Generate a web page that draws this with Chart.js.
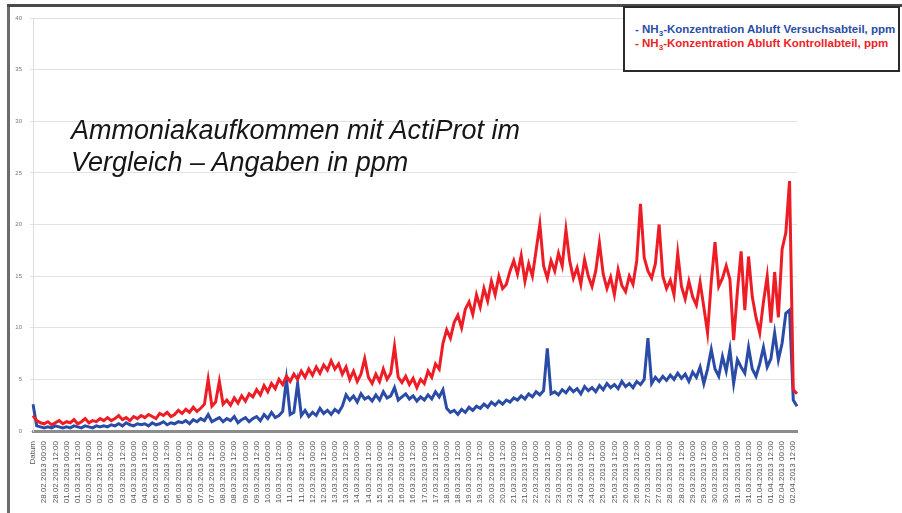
<!DOCTYPE html>
<html><head><meta charset="utf-8">
<script src="https://cdn.jsdelivr.net/npm/chart.js@4"></script>
<style>
html,body{margin:0;padding:0;background:#fff;}
#wrap{position:relative;width:902px;height:513px;overflow:hidden;background:#fff;}
#c{position:absolute;left:0;top:0;}
.frameL{position:absolute;left:7px;top:4px;width:3px;height:509px;background:#6b6b6b;}
.frameT{position:absolute;left:7px;top:4px;width:895px;height:3px;background:#4a4a4a;}
#title{position:absolute;left:71px;top:114px;font:italic 27px/32px "Liberation Sans",Arial,sans-serif;color:#161616;white-space:nowrap;}
#legend{position:absolute;left:623px;top:6px;width:273px;height:62px;border:2px solid #2a2a2a;background:#fff;}
.li{position:absolute;left:10px;font:bold 10px/12px "Liberation Sans",Arial,sans-serif;white-space:nowrap;transform-origin:left center;transform:scaleX(1.15);}
.li sub{font-size:7px;line-height:0;}
</style>
</head><body>
<div id="wrap">
<canvas id="c" width="902" height="513"></canvas>
<div class="frameL"></div><div class="frameT"></div>
<div id="title">Ammoniakaufkommen mit ActiProt im<br>Vergleich – Angaben in ppm</div>
<div id="legend">
<div class="li" style="top:16px;color:#2a4ca6">- NH<sub>3</sub>-Konzentration Abluft Versuchsabteil, ppm</div>
<div class="li" style="top:30px;color:#ee1c25">- NH<sub>3</sub>-Konzentration Abluft Kontrollabteil, ppm</div>
</div>
</div>
<script>
const tickLabels = ["Datum",
"28.02.2013 00:00","28.02.2013 12:00","01.03.2013 00:00","01.03.2013 12:00","02.03.2013 00:00","02.03.2013 12:00",
"03.03.2013 00:00","03.03.2013 12:00","04.03.2013 00:00","04.03.2013 12:00","05.03.2013 00:00","05.03.2013 12:00",
"06.03.2013 00:00","06.03.2013 12:00","07.03.2013 00:00","07.03.2013 12:00","08.03.2013 00:00","08.03.2013 12:00",
"09.03.2013 00:00","09.03.2013 12:00","10.03.2013 00:00","10.03.2013 12:00","11.03.2013 00:00","11.03.2013 12:00",
"12.03.2013 00:00","12.03.2013 12:00","13.03.2013 00:00","13.03.2013 12:00","14.03.2013 00:00","14.03.2013 12:00",
"15.03.2013 00:00","15.03.2013 12:00","16.03.2013 00:00","16.03.2013 12:00","17.03.2013 00:00","17.03.2013 12:00",
"18.03.2013 00:00","18.03.2013 12:00","19.03.2013 00:00","19.03.2013 12:00","20.03.2013 00:00","20.03.2013 12:00",
"21.03.2013 00:00","21.03.2013 12:00","22.03.2013 00:00","22.03.2013 12:00","23.03.2013 00:00","23.03.2013 12:00",
"24.03.2013 00:00","24.03.2013 12:00","25.03.2013 00:00","25.03.2013 12:00","26.03.2013 00:00","26.03.2013 12:00",
"27.03.2013 00:00","27.03.2013 12:00","28.03.2013 00:00","28.03.2013 12:00","29.03.2013 00:00","29.03.2013 12:00",
"30.03.2013 00:00","30.03.2013 12:00","31.03.2013 00:00","31.03.2013 12:00","01.04.2013 00:00","01.04.2013 12:00",
"02.04.2013 00:00","02.04.2013 12:00"];

// NH3 Kontrollabteil (red), ppm
const kontroll = [
1.5,1.0,0.8,0.7,0.9,0.6,0.8,1.0,0.7,0.9,
0.8,1.1,0.7,0.9,1.2,0.8,1.0,0.9,1.2,1.0,
1.3,1.0,1.2,1.5,1.1,1.3,1.0,1.4,1.2,1.5,
1.3,1.6,1.4,1.2,1.7,1.5,1.8,1.4,1.6,2.0,
1.7,2.1,1.8,2.3,1.9,2.2,2.6,5.0,2.4,2.8,
4.8,2.6,3.0,2.5,3.2,2.7,3.4,2.9,3.6,3.3,
4.0,3.5,4.4,3.8,4.6,4.1,5.0,4.5,5.3,4.8,
5.5,5.0,5.8,5.2,6.0,5.4,6.2,5.6,6.4,5.9,
6.8,6.0,6.5,5.5,6.2,5.0,5.8,4.8,5.5,7.0,
5.2,4.6,5.5,4.8,6.0,5.0,5.6,8.2,5.2,4.7,
5.3,4.5,5.1,4.2,5.0,4.6,5.8,5.2,6.5,6.0,
8.5,9.8,9.0,10.5,11.2,10.0,11.8,12.5,11.3,13.2,
12.0,13.8,12.6,14.5,13.2,15.0,13.8,14.2,15.5,16.5,
15.2,17.0,14.5,16.2,15.0,17.5,20.0,16.0,14.8,16.5,
15.5,17.2,16.0,19.5,16.5,14.8,15.8,14.2,16.6,15.0,
14.0,15.5,18.2,15.2,13.8,14.9,13.2,15.6,14.1,13.5,
15.0,14.2,16.5,22.0,16.8,15.5,14.8,16.2,20.0,15.0,
13.8,14.6,13.2,17.2,14.0,12.8,14.5,13.0,12.2,14.4,
12.0,9.5,14.5,18.3,14.0,14.8,16.0,14.7,8.8,13.5,
17.4,11.7,16.9,13.0,11.0,9.5,12.5,15.0,10.5,15.4,
11.0,17.6,19.2,24.2,4.0,3.6];

// NH3 Versuchsabteil (blue), ppm
const versuch = [
2.6,0.5,0.4,0.3,0.4,0.3,0.5,0.4,0.3,0.4,
0.3,0.5,0.4,0.3,0.5,0.4,0.3,0.5,0.4,0.5,
0.4,0.6,0.5,0.7,0.5,0.8,0.6,0.5,0.7,0.6,
0.7,0.5,0.8,0.6,0.7,0.9,0.6,0.8,0.7,0.9,
0.8,1.0,0.7,1.1,0.9,1.2,1.0,1.6,0.9,1.1,
1.3,0.9,1.2,1.0,1.4,0.8,1.1,1.3,0.9,1.2,
1.4,1.0,1.6,1.2,1.8,1.3,1.5,1.9,5.0,1.6,
1.8,4.6,1.5,2.0,1.4,1.8,1.5,2.2,1.7,2.0,
1.6,2.1,1.8,2.4,3.5,3.0,3.4,2.8,3.6,3.1,
3.3,2.9,3.5,3.0,3.8,3.2,3.4,4.2,3.0,3.3,
3.6,3.1,3.4,2.9,3.3,3.0,3.5,3.1,3.8,3.3,
4.0,2.2,1.8,2.0,1.6,2.1,1.8,2.3,2.0,2.4,
2.2,2.6,2.3,2.8,2.5,2.9,2.6,3.0,2.8,3.2,
3.0,3.4,3.1,3.6,3.3,3.8,3.5,3.9,8.0,3.6,
3.8,3.5,4.0,3.7,4.2,3.8,4.1,3.6,4.3,3.9,
4.2,3.8,4.4,4.0,4.6,4.2,4.5,4.1,4.8,4.3,
4.6,4.2,4.8,4.5,5.0,9.0,4.6,5.2,4.8,5.3,
4.9,5.4,5.0,5.6,5.1,5.5,4.8,5.7,5.2,6.2,
4.6,6.0,7.9,6.0,5.3,7.2,5.8,7.9,4.6,6.9,
6.2,5.6,8.1,6.0,5.3,6.5,8.1,6.2,7.0,9.5,
6.9,8.5,11.4,11.7,3.0,2.4];

const pointsPerTick = 3;
const labels = kontroll.map((_, i) => (i % pointsPerTick === 0 && tickLabels[i / pointsPerTick] !== undefined) ? tickLabels[i / pointsPerTick] : '');

new Chart(document.getElementById('c').getContext('2d'), {
  type: 'line',
  data: {
    labels,
    datasets: [
      { label: 'NH3-Konzentration Abluft Versuchsabteil, ppm', data: versuch, borderColor: '#2a4ca6', borderWidth: 3, pointRadius: 0, tension: 0, order: 1 },
      { label: 'NH3-Konzentration Abluft Kontrollabteil, ppm', data: kontroll, borderColor: '#ee1c25', borderWidth: 3, pointRadius: 0, tension: 0, order: 0 }
    ]
  },
  options: {
    responsive: false, animation: false, devicePixelRatio: 1,
    layout: { padding: { left: 8, top: 18, right: 105, bottom: 0 } },
    plugins: { legend: { display: false }, tooltip: { enabled: false } },
    scales: {
      x: {
        type: 'category',
        grid: { display: false },
        border: { display: true, color: '#8c8c8c', width: 3 },
        ticks: { autoSkip: false, maxRotation: 90, minRotation: 90, font: { size: 8, family: 'Liberation Sans' }, color: '#555', padding: 2 },
        afterFit(s) { s.height = 82; }
      },
      y: {
        min: 0, max: 40,
        ticks: { stepSize: 5, font: { size: 6, family: 'Liberation Sans' }, color: '#777', padding: 8 },
        grid: { color: '#e2e2e2', lineWidth: 1, tickLength: 3 },
        border: { color: '#dcdcdc' },
        afterFit(s) { s.width = 25; }
      }
    }
  }
});
</script>
</body></html>
